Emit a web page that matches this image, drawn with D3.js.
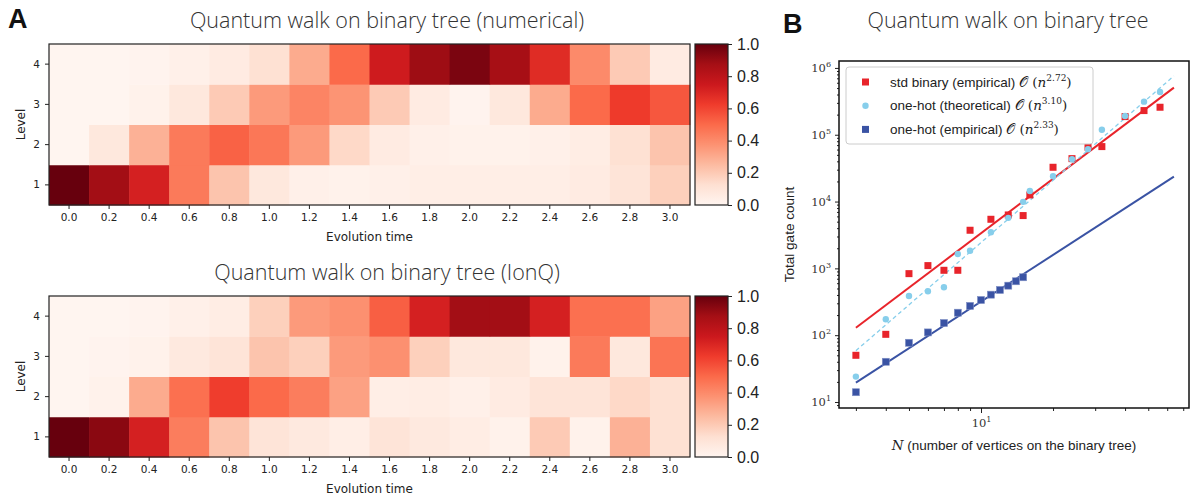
<!DOCTYPE html>
<html>
<head>
<meta charset="utf-8">
<script src="https://cdn.jsdelivr.net/npm/d3@7"></script>
<style>
  body { margin: 0; background: #fff; }
  svg { display: block; }
</style>
</head>
<body>
<div id="chart"></div>
<script>
// ---- data: heatmaps (probability per level vs evolution time) ----
const times = [0.0, 0.2, 0.4, 0.6, 0.8, 1.0, 1.2, 1.4, 1.6, 1.8, 2.0, 2.2, 2.4, 2.6, 2.8, 3.0];
const levels = [1, 2, 3, 4];

const numLevel1 = [1.00, 0.88, 0.72, 0.45, 0.22, 0.08, 0.03, 0.02, 0.03, 0.04, 0.04, 0.04, 0.04, 0.06, 0.10, 0.18];
const numLevel2 = [0.00, 0.08, 0.28, 0.45, 0.52, 0.46, 0.35, 0.15, 0.06, 0.03, 0.02, 0.02, 0.03, 0.05, 0.12, 0.22];
const numLevel3 = [0.00, 0.00, 0.02, 0.08, 0.20, 0.35, 0.42, 0.37, 0.20, 0.06, 0.01, 0.08, 0.30, 0.50, 0.63, 0.55];
const numLevel4 = [0.00, 0.00, 0.01, 0.03, 0.06, 0.12, 0.30, 0.50, 0.74, 0.89, 0.96, 0.87, 0.68, 0.40, 0.20, 0.06];

const ionqLevel1 = [1.00, 0.93, 0.72, 0.44, 0.22, 0.10, 0.07, 0.04, 0.10, 0.07, 0.05, 0.02, 0.20, 0.02, 0.28, 0.12];
const ionqLevel2 = [0.00, 0.02, 0.30, 0.48, 0.62, 0.50, 0.44, 0.33, 0.04, 0.05, 0.03, 0.06, 0.10, 0.10, 0.15, 0.12];
const ionqLevel3 = [0.00, 0.01, 0.02, 0.07, 0.10, 0.22, 0.18, 0.35, 0.38, 0.18, 0.08, 0.08, 0.02, 0.45, 0.08, 0.47];
const ionqLevel4 = [0.00, 0.00, 0.01, 0.03, 0.05, 0.18, 0.35, 0.38, 0.53, 0.72, 0.88, 0.88, 0.72, 0.48, 0.48, 0.33];

const colorTicks = [0.0, 0.2, 0.4, 0.6, 0.8, 1.0];

// ---- data: gate counts vs N ----
const nBinary = [3, 4, 5, 6, 7, 8, 9, 11, 13, 15, 16, 20, 24, 28, 32, 40, 48, 56];
const stdBinaryEmp = [50, 103, 834, 1100, 936, 936, 3720, 5430, 6300, 6170, 12560, 32600, 43900, 65000, 66500, 187000, 230000, 258000];
const oneHotTheory = [24, 173, 386, 454, 521, 1640, 1840, 3470, 5700, 9900, 14400, 23900, 43000, 60700, 119000, 191000, 313000, 437000];
const nOneHot = [3, 4, 5, 6, 7, 8, 9, 10, 11, 12, 13, 14, 15];
const oneHotEmp = [14, 40, 77, 110, 152, 217, 274, 336, 404, 475, 551, 641, 736];

// fit lines (end points)
const fitN = [3, 64];
const stdBinaryFit = [129, 508000];
const oneHotTheoryFit = [58.6, 759000];
const oneHotEmpFit = [19.5, 23600];

const W = 1197, H = 499;
const RED = "#e8242b", SKY = "#87ceeb", NAVY = "#3a53a4";
const SANS = "'Liberation Sans', Arial, sans-serif";
const SERIF = "'DejaVu Serif', 'Liberation Serif', serif";
const MPL = "'DejaVu Sans', sans-serif";
const LIGHT = "'Open Sans', sans-serif";

const svg = d3.select("#chart").append("svg")
  .attr("xmlns", "http://www.w3.org/2000/svg")
  .attr("width", W)
  .attr("height", H)
  .attr("viewBox", `0 0 ${W} ${H}`);

// matplotlib "Reds" (piecewise linear)
const redsStops = ["#fff5f0", "#fee0d2", "#fcbba1", "#fc9272", "#fb6a4a", "#ef3b2c", "#cb181d", "#a50f15", "#67000d"];
const color = d3.scaleLinear()
  .domain(d3.range(9).map(i => i / 8))
  .range(redsStops)
  .clamp(true);

const defs = svg.append("defs");
const grad = defs.append("linearGradient")
  .attr("id", "redsGrad")
  .attr("x1", 0).attr("y1", 1).attr("x2", 0).attr("y2", 0);
redsStops.forEach((c, i) => {
  grad.append("stop").attr("offset", i / 8).attr("stop-color", c);
});

// panel labels
svg.append("text").attr("x", 8).attr("y", 28)
  .attr("font-family", SANS).attr("font-weight", "bold").attr("font-size", 27)
  .attr("fill", "#111").text("A");
svg.append("text").attr("x", 783).attr("y", 33)
  .attr("font-family", SANS).attr("font-weight", "bold").attr("font-size", 27)
  .attr("fill", "#111").text("B");

// ---- heatmap panel ----
const drawHeatmap = (rows, top, title) => {
  const left = 49, right = 690, bottom = top + 161;
  const g = svg.append("g");

  const x = d3.scaleBand().domain(times).range([left, right]);
  const y = d3.scaleBand().domain(levels.slice().reverse()).range([top, bottom]);

  const cells = [];
  rows.forEach((vals, i) => {
    vals.forEach((v, j) => cells.push({ level: levels[i], t: times[j], v: v }));
  });

  g.selectAll("rect.cell")
    .data(cells)
    .enter()
    .append("rect")
    .attr("class", "cell")
    .attr("x", d => x(d.t))
    .attr("y", d => y(d.level))
    .attr("width", x.bandwidth() + 0.5)
    .attr("height", y.bandwidth() + 0.5)
    .attr("fill", d => color(d.v));

  g.append("rect")
    .attr("x", left).attr("y", top)
    .attr("width", right - left).attr("height", bottom - top)
    .attr("fill", "none").attr("stroke", "#222").attr("stroke-width", 1.2);

  // X軸
  const xAxis = g.append("g")
    .attr("transform", `translate(0,${bottom})`)
    .call(d3.axisBottom(x).tickFormat(d3.format(".1f")).tickSize(4).tickPadding(5));
  xAxis.select(".domain").remove();
  xAxis.selectAll("text").attr("font-family", MPL).attr("font-size", 10.5).attr("fill", "#222");
  xAxis.selectAll("line").attr("stroke", "#222");

  // Y軸
  const yAxis = g.append("g")
    .attr("transform", `translate(${left},0)`)
    .call(d3.axisLeft(y).tickSize(4).tickPadding(5));
  yAxis.select(".domain").remove();
  yAxis.selectAll("text").attr("font-family", MPL).attr("font-size", 10.5).attr("fill", "#222");
  yAxis.selectAll("line").attr("stroke", "#222");

  g.append("text")
    .attr("x", (left + right) / 2).attr("y", bottom + 36)
    .attr("text-anchor", "middle")
    .attr("font-family", MPL).attr("font-size", 12).attr("fill", "#222")
    .text("Evolution time");

  g.append("text")
    .attr("transform", `translate(25,${(top + bottom) / 2}) rotate(-90)`)
    .attr("text-anchor", "middle")
    .attr("font-family", MPL).attr("font-size", 12).attr("fill", "#222")
    .text("Level");

  g.append("text")
    .attr("x", 387).attr("y", top - 16)
    .attr("text-anchor", "middle")
    .attr("font-family", LIGHT).attr("font-weight", 300)
    .attr("font-size", 21.5).attr("fill", "#333")
    .text(title);

  // カラーバー
  const cbLeft = 695, cbRight = 728;
  g.append("rect")
    .attr("x", cbLeft).attr("y", top)
    .attr("width", cbRight - cbLeft).attr("height", bottom - top)
    .attr("fill", "url(#redsGrad)")
    .attr("stroke", "#222").attr("stroke-width", 1.2);

  const cScale = d3.scaleLinear().domain([0, 1]).range([bottom, top]);
  const cAxis = g.append("g")
    .attr("transform", `translate(${cbRight},0)`)
    .call(d3.axisRight(cScale).tickValues(colorTicks).tickFormat(d3.format(".1f")).tickSize(4).tickPadding(5));
  cAxis.select(".domain").remove();
  cAxis.selectAll("text").attr("font-family", SANS).attr("font-size", 16).attr("fill", "#222");
  cAxis.selectAll("line").attr("stroke", "#222");
};

drawHeatmap([numLevel1, numLevel2, numLevel3, numLevel4], 44, "Quantum walk on binary tree (numerical)");
drawHeatmap([ionqLevel1, ionqLevel2, ionqLevel3, ionqLevel4], 296, "Quantum walk on binary tree (IonQ)");

// ---- gate count panel ----
const P = { left: 839, right: 1189, top: 61, bottom: 408 };
const xs = d3.scaleLog().domain([2.55, 74]).range([P.left, P.right]);
const ys = d3.scaleLog().domain([8.13, 1.27e6]).range([P.bottom, P.top]);

const gB = svg.append("g");

// 軸 (minor / major ticks)
const yMajor = [1e1, 1e2, 1e3, 1e4, 1e5, 1e6];
const yMinor = [];
[1, 10, 100, 1000, 10000, 100000].forEach(b => {
  d3.range(2, 10).forEach(k => { if (b * k < 1.27e6 && b * k > 8.13) yMinor.push(b * k); });
});
const xMinor = [3, 4, 5, 6, 7, 8, 9, 20, 30, 40, 50, 60, 70];

const supLabels = (sel) => {
  sel.selectAll(".tick text").each(function (d) {
    const t = d3.select(this);
    t.text(null);
    t.append("tspan").text("10");
    t.append("tspan").attr("dy", -5).attr("font-size", 8).text(Math.round(Math.log10(d)));
  });
};

const yMin = gB.append("g").attr("transform", `translate(${P.left},0)`)
  .call(d3.axisLeft(ys).tickValues(yMinor).tickFormat("").tickSize(2));
const yMaj = gB.append("g").attr("transform", `translate(${P.left},0)`)
  .call(d3.axisLeft(ys).tickValues(yMajor).tickSize(4).tickPadding(4));
supLabels(yMaj);
const xMin = gB.append("g").attr("transform", `translate(0,${P.bottom})`)
  .call(d3.axisBottom(xs).tickValues(xMinor).tickFormat("").tickSize(3));
const xMaj = gB.append("g").attr("transform", `translate(0,${P.bottom})`)
  .call(d3.axisBottom(xs).tickValues([10]).tickSize(5).tickPadding(6));
supLabels(xMaj);
[yMin, yMaj, xMin, xMaj].forEach(a => {
  a.select(".domain").remove();
  a.selectAll("line").attr("stroke", "#222");
  a.selectAll("text").attr("font-family", SERIF).attr("font-size", 11.5).attr("fill", "#333");
});

// フィット線
const fitLine = d3.line().x(d => xs(d[0])).y(d => ys(d[1]));
const fits = [
  { vals: stdBinaryFit, color: RED, dash: null },
  { vals: oneHotTheoryFit, color: SKY, dash: "4,3" },
  { vals: oneHotEmpFit, color: NAVY, dash: null }
];
fits.forEach(f => {
  gB.append("path")
    .datum(fitN.map((n, i) => [n, f.vals[i]]))
    .attr("fill", "none")
    .attr("stroke", f.color)
    .attr("stroke-width", f.dash ? 1.3 : 2)
    .attr("stroke-dasharray", f.dash)
    .attr("d", fitLine);
});

// 点
gB.append("g").selectAll("rect")
  .data(nBinary.map((n, i) => [n, stdBinaryEmp[i]]))
  .enter().append("rect")
  .attr("x", d => xs(d[0]) - 3.5).attr("y", d => ys(d[1]) - 3.5)
  .attr("width", 7).attr("height", 7)
  .attr("fill", RED);

gB.append("g").selectAll("circle")
  .data(nBinary.map((n, i) => [n, oneHotTheory[i]]))
  .enter().append("circle")
  .attr("cx", d => xs(d[0])).attr("cy", d => ys(d[1]))
  .attr("r", 3.2)
  .attr("fill", SKY);

gB.append("g").selectAll("rect")
  .data(nOneHot.map((n, i) => [n, oneHotEmp[i]]))
  .enter().append("rect")
  .attr("x", d => xs(d[0]) - 3.5).attr("y", d => ys(d[1]) - 3.5)
  .attr("width", 7).attr("height", 7)
  .attr("fill", NAVY)
  .attr("stroke", "#7f8fc4").attr("stroke-width", 0.6);

// 枠
gB.append("rect")
  .attr("x", P.left).attr("y", P.top)
  .attr("width", P.right - P.left).attr("height", P.bottom - P.top)
  .attr("fill", "none").attr("stroke", "#111").attr("stroke-width", 1.5);

// 凡例
const legend = gB.append("g");
legend.append("rect")
  .attr("x", 846).attr("y", 67).attr("width", 247).attr("height", 77)
  .attr("rx", 3)
  .attr("fill", "#fff").attr("fill-opacity", 0.85)
  .attr("stroke", "#ccc");

const legendItems = [
  { label: "std binary (empirical) ", exp: "2.72", color: RED, shape: "square" },
  { label: "one-hot (theoretical) ", exp: "3.10", color: SKY, shape: "circle" },
  { label: "one-hot (empirical) ", exp: "2.33", color: NAVY, shape: "square" }
];
legendItems.forEach((item, i) => {
  const cy = 82 + i * 23.7;
  if (item.shape === "square") {
    legend.append("rect").attr("x", 862).attr("y", cy - 3.5).attr("width", 7).attr("height", 7).attr("fill", item.color);
  } else {
    legend.append("circle").attr("cx", 865.5).attr("cy", cy).attr("r", 3.2).attr("fill", item.color);
  }
  const t = legend.append("text")
    .attr("x", 890).attr("y", cy + 4.7)
    .attr("font-family", SANS).attr("font-size", 13.5).attr("fill", "#222");
  t.append("tspan").text(item.label);
  t.append("tspan").attr("font-family", SERIF).text("\u{1D4AA} (");
  t.append("tspan").attr("font-family", SERIF).attr("font-style", "italic").text("n");
  t.append("tspan").attr("font-family", SERIF).attr("font-size", 9).attr("dy", -6).text(item.exp);
  t.append("tspan").attr("font-family", SERIF).attr("dy", 6).text(")");
});

// 軸ラベル
const xl = gB.append("text")
  .attr("x", 1014).attr("y", 450)
  .attr("text-anchor", "middle")
  .attr("font-family", SANS).attr("font-size", 13.5).attr("fill", "#222");
xl.append("tspan").attr("font-family", SERIF).attr("font-style", "italic").text("N");
xl.append("tspan").text("  (number of vertices on the binary tree)");

gB.append("text")
  .attr("transform", `translate(794,${(P.top + P.bottom) / 2}) rotate(-90)`)
  .attr("text-anchor", "middle")
  .attr("font-family", SANS).attr("font-size", 13.5).attr("fill", "#222")
  .text("Total gate count");

gB.append("text")
  .attr("x", 1008).attr("y", 28)
  .attr("text-anchor", "middle")
  .attr("font-family", LIGHT).attr("font-weight", 300)
  .attr("font-size", 21.5).attr("fill", "#333")
  .text("Quantum walk on binary tree");
</script>
</body>
</html>
